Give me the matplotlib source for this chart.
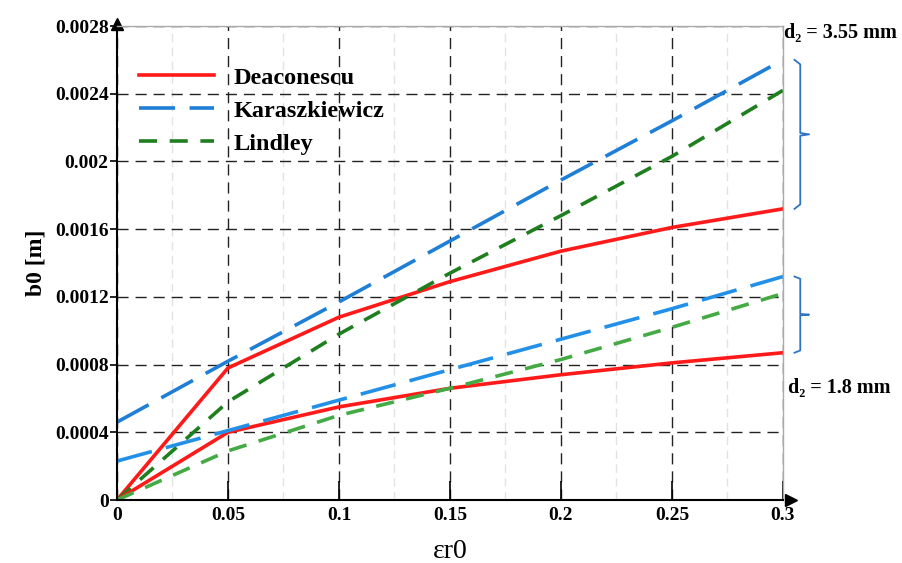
import matplotlib.pyplot as plt
from matplotlib.ticker import MultipleLocator

# strain values on the x axis
eps = [0, 0.05, 0.1, 0.15, 0.2, 0.25, 0.3]

# d2 = 3.55 mm
deac_big = [0, 0.00078, 0.00108, 0.00129, 0.00147, 0.00161, 0.00172]
kara_big = [0.00046, 0.00082, 0.00117, 0.00153, 0.00189, 0.00224, 0.0026]
lind_big = [0, 0.00058, 0.00098, 0.00134, 0.00168, 0.00203, 0.00242]

# d2 = 1.8 mm
deac_small = [0, 0.0004, 0.00055, 0.00066, 0.00074, 0.00081, 0.00087]
kara_small = [0.00023, 0.00041, 0.00059, 0.00077, 0.00095, 0.00113, 0.00132]
lind_small = [0, 0.00029, 0.0005, 0.00066, 0.00083, 0.00102, 0.00122]

xticks = [0, 0.05, 0.1, 0.15, 0.2, 0.25, 0.3]
xlabels = ["0", "0.05", "0.1", "0.15", "0.2", "0.25", "0.3"]
yticks = [0, 0.0004, 0.0008, 0.0012, 0.0016, 0.002, 0.0024, 0.0028]
ylabels = ["0", "0.0004", "0.0008", "0.0012", "0.0016", "0.002", "0.0024", "0.0028"]

serif = ['Liberation Serif', 'DejaVu Serif']
plt.rcParams['font.family'] = serif

fig = plt.figure(figsize=(9.02, 5.63), dpi=100)
ax = fig.add_axes([0.1297, 0.1119, 0.7383, 0.8419])

red = '#ff1a1a'
blue = '#1f7fd6'
blue2 = '#2390e8'
green = '#1f7f1f'
green2 = '#44aa44'

ax.plot(eps, deac_big, color=red, lw=2.6, label='Deaconescu')
ax.plot(eps, kara_big, color=blue, lw=2.6, dashes=(10, 4), label='Karaszkiewicz')
ax.plot(eps, lind_big, color=green, lw=2.6, dashes=(5, 3.5), label='Lindley')
ax.plot(eps, deac_small, color=red, lw=2.6)
ax.plot(eps, kara_small, color=blue2, lw=2.6, dashes=(10, 4))
ax.plot(eps, lind_small, color=green2, lw=2.6, dashes=(5, 3.5))

ax.set_xlim(0, 0.3)
ax.set_ylim(0, 0.0028)
ax.set_xticks(xticks)
ax.set_xticklabels(xlabels)
ax.set_yticks(yticks)
ax.set_yticklabels(ylabels)
ax.xaxis.set_minor_locator(MultipleLocator(0.025))

ax.grid(which='major', color='#222222', lw=1.0, dashes=(8, 5))
ax.grid(which='minor', axis='x', color='#e2e2e2', lw=1.0, dashes=(6, 4))
ax.set_axisbelow(True)

ax.tick_params(axis='x', which='major', direction='in', length=14, width=1.2, pad=5)
ax.tick_params(axis='x', which='minor', length=0)
ax.tick_params(axis='y', direction='out', length=5, width=1.2, pad=1)
for lab in ax.get_xticklabels() + ax.get_yticklabels():
    lab.set_fontsize(14)
    lab.set_fontweight('bold')

for s in ['left', 'bottom']:
    ax.spines[s].set_linewidth(1.5)
    ax.spines[s].set_color('black')
for s in ['top', 'right']:
    ax.spines[s].set_linewidth(1.0)
    ax.spines[s].set_color('#aaaaaa')

# axis arrows
ax.plot([0], [1.005], marker='^', color='black', ms=8, transform=ax.transAxes, clip_on=False)
ax.plot([1.012], [0], marker='>', color='black', ms=8, transform=ax.transAxes, clip_on=False)

ax.set_ylabel('b0 [m]', fontsize=17, fontweight='bold', labelpad=6)
ax.set_xlabel('εr0', fontsize=20, labelpad=11)

leg = ax.legend(loc='upper left', bbox_to_anchor=(0.0, 0.96), frameon=False,
                handlelength=3.1, handletextpad=0.8, labelspacing=0.45,
                prop={'family': serif, 'weight': 'bold', 'size': 17.5})

# braces grouping the two diameters
def brace(top, bottom, color='#2e74c4'):
    x0, x1, x2 = 0.3052, 0.3078, 0.3118
    mid = (top + bottom) / 2
    h = (top - bottom) * 0.03
    xs = [x0, x1, x1, x2, x1, x1, x0]
    ys = [top, top - h, mid + h * 0.3, mid, mid - h * 0.3, bottom + h, bottom]
    ax.plot(xs, ys, color=color, lw=1.3, clip_on=False)

brace(kara_big[-1], deac_big[-1])
brace(kara_small[-1], deac_small[-1])

ax.text(0.3005, 0.00276, 'd₂ = 3.55 mm', fontsize=14.5, fontweight='bold',
        family=serif, ha='left', va='center')
ax.text(0.3025, 0.00066, 'd₂ = 1.8 mm', fontsize=14.5, fontweight='bold',
        family=serif, ha='left', va='center')

fig.savefig('out.png', dpi=100, facecolor='white')
